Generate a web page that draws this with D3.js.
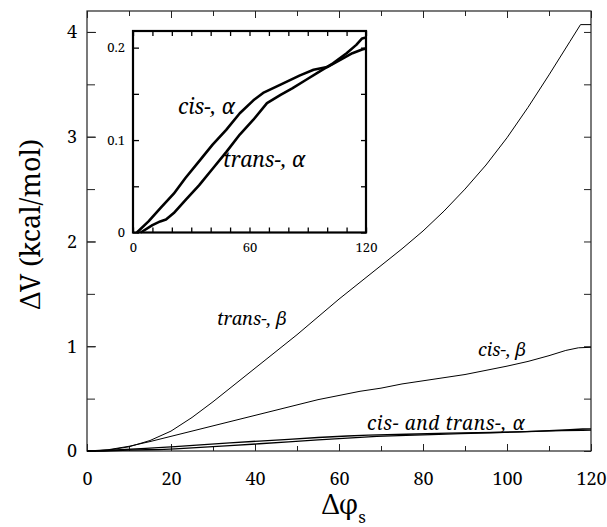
<!DOCTYPE html>
<html>
<head>
<meta charset="utf-8">
<script src="https://cdn.jsdelivr.net/npm/d3@7"></script>
<style>
  html, body { margin: 0; padding: 0; background: #fff; }
  svg { display: block; }
</style>
</head>
<body>
<svg id="chart" width="607" height="527"></svg>
<script>
// ---------- data ----------
const xTickValues = [0, 20, 40, 60, 80, 100, 120];
const yTickValues = [0, 1, 2, 3, 4];
const insetXTickValues = [0, 60, 120];
const insetYTickValues = [0, 0.1, 0.2];
const insetYTickLabels = ["0", "0.1", "0.2"];

const transBetaPhi = [0, 5, 10, 15, 20, 25, 30, 35, 40, 45, 50, 55, 60, 65, 70, 75, 80, 85, 90, 95, 100, 105, 110, 115, 117.5, 120];
const transBetaV   = [0, 0.008, 0.04, 0.10, 0.19, 0.32, 0.47, 0.63, 0.79, 0.95, 1.11, 1.28, 1.45, 1.61, 1.77, 1.93, 2.10, 2.29, 2.50, 2.73, 2.99, 3.28, 3.59, 3.91, 4.07, 4.07];

const cisBetaPhi = [0, 5, 10, 15, 20, 25, 30, 35, 40, 45, 50, 55, 60, 65, 70, 75, 80, 85, 90, 95, 100, 105, 110, 114, 117, 120];
const cisBetaV   = [0, 0.012, 0.045, 0.09, 0.14, 0.19, 0.24, 0.29, 0.34, 0.39, 0.44, 0.49, 0.53, 0.57, 0.60, 0.64, 0.67, 0.70, 0.73, 0.77, 0.81, 0.855, 0.91, 0.96, 0.985, 0.99];

const cisAlphaPhi = [2, 8, 14, 21, 27, 34, 41, 48, 55, 62, 67, 76, 86, 93, 100, 107, 113, 118, 120];
const cisAlphaV   = [0, 0.012, 0.026, 0.042, 0.059, 0.077, 0.095, 0.111, 0.129, 0.143, 0.151, 0.160, 0.170, 0.176, 0.179, 0.187, 0.194, 0.198, 0.199];

const transAlphaPhi = [4, 10, 14, 17, 21, 27, 34, 41, 48, 55, 62, 69, 76, 82, 89, 96, 103, 110, 115, 118, 120];
const transAlphaV   = [0, 0.008, 0.012, 0.014, 0.021, 0.035, 0.051, 0.069, 0.087, 0.106, 0.122, 0.140, 0.149, 0.156, 0.165, 0.174, 0.183, 0.194, 0.203, 0.210, 0.211];

// ---------- layout ----------
const FONT = '"Noto Serif", "Times New Roman", serif';
const svg = d3.select("#chart");
const main = { left: 87, right: 591, top: 11, bottom: 451 };
const inset = { left: 133, right: 366, top: 31, bottom: 232.5 };

const x = d3.scaleLinear().domain([0, 120]).range([main.left, main.right]);
const y = d3.scaleLinear().domain([0, 4.2]).range([main.bottom, main.top]);
const xi = d3.scaleLinear().domain([0, 120]).range([inset.left, inset.right]);
const yi = d3.scaleLinear().domain([0, 0.218]).range([inset.bottom, inset.top]);

const zip = (a, b) => a.map((v, i) => [v, b[i]]);
const styleText = (s, fs) => s.selectAll("text").attr("font-size", fs).style("font-family", FONT).attr("fill", "#000");

// ---------- main frame & ticks ----------
const g = svg.append("g");

g.append("rect")
  .attr("x", main.left).attr("y", main.top)
  .attr("width", main.right - main.left).attr("height", main.bottom - main.top)
  .attr("fill", "none").attr("stroke", "#222").attr("stroke-width", 1.2);

const xMinor = d3.range(0, 121, 10);
g.append("g").attr("transform", `translate(0,${main.bottom})`)
  .call(d3.axisBottom(x).tickValues(xMinor).tickSize(-5).tickFormat(""))
  .call(s => s.select(".domain").remove());
g.append("g").attr("transform", `translate(0,${main.bottom})`)
  .call(d3.axisBottom(x).tickValues(xTickValues).tickSize(-7).tickPadding(21).tickFormat(d3.format("d")))
  .call(s => s.select(".domain").remove())
  .call(s => styleText(s, 18));
g.append("g").attr("transform", `translate(0,${main.top})`)
  .call(d3.axisTop(x).tickValues(xMinor).tickSize(-5).tickFormat(""))
  .call(s => s.select(".domain").remove());
g.append("g").attr("transform", `translate(0,${main.top})`)
  .call(d3.axisTop(x).tickValues(xTickValues).tickSize(-7).tickFormat(""))
  .call(s => s.select(".domain").remove());
const yMinor = d3.range(0, 4.01, 0.5);
g.append("g").attr("transform", `translate(${main.left},0)`)
  .call(d3.axisLeft(y).tickValues(yMinor).tickSize(-8).tickFormat(""))
  .call(s => s.select(".domain").remove());
g.append("g").attr("transform", `translate(${main.left},0)`)
  .call(d3.axisLeft(y).tickValues(yTickValues).tickSize(-9).tickPadding(10).tickFormat(d3.format("d")))
  .call(s => s.select(".domain").remove())
  .call(s => styleText(s, 18));
g.append("g").attr("transform", `translate(${main.right},0)`)
  .call(d3.axisRight(y).tickValues(yMinor).tickSize(-7).tickFormat(""))
  .call(s => s.select(".domain").remove());
g.selectAll(".tick line").attr("stroke", "#222");

// axis titles
svg.append("text")
  .attr("transform", `translate(40,224) rotate(-90)`)
  .attr("text-anchor", "middle")
  .attr("font-size", 27).style("font-family", FONT)
  .text("ΔV (kcal/mol)");

const xt = svg.append("text")
  .attr("x", 322).attr("y", 514)
  .attr("font-size", 27).style("font-family", FONT);
xt.append("tspan").text("Δφ");
xt.append("tspan").attr("font-size", 17).attr("dy", 9).text("s");

// ---------- main curves ----------
const line = d3.line().x(d => x(d[0])).y(d => y(d[1])).curve(d3.curveLinear);

g.append("path").datum(zip(transBetaPhi, transBetaV))
  .attr("d", line).attr("fill", "none").attr("stroke", "#000").attr("stroke-width", 1);
g.append("path").datum(zip(cisBetaPhi, cisBetaV))
  .attr("d", line).attr("fill", "none").attr("stroke", "#000").attr("stroke-width", 1);
g.append("path").datum(zip([0].concat(cisAlphaPhi), [0].concat(cisAlphaV)))
  .attr("d", line).attr("fill", "none").attr("stroke", "#000").attr("stroke-width", 1.3);
g.append("path").datum(zip([0].concat(transAlphaPhi), [0].concat(transAlphaV)))
  .attr("d", line).attr("fill", "none").attr("stroke", "#000").attr("stroke-width", 1.3);

const lab = (xx, yy, t, fs, ls) => svg.append("text").attr("x", xx).attr("y", yy)
  .attr("font-size", fs).attr("font-style", "italic").style("font-family", FONT)
  .style("letter-spacing", (ls || 0) + "px").text(t);
lab(217, 325, "trans-, β", 18);
lab(478, 356, "cis-, β", 18);
lab(367, 430, "cis- and trans-, α", 19, 0.6);

// ---------- inset ----------
const gi = svg.append("g");
gi.append("rect")
  .attr("x", inset.left).attr("y", inset.top)
  .attr("width", inset.right - inset.left).attr("height", inset.bottom - inset.top)
  .attr("fill", "#fff").attr("stroke", "#000").attr("stroke-width", 2.2);

const xiMinor = d3.range(0, 121, 10);
const yiMinor = d3.range(0, 0.201, 0.05);
gi.append("g").attr("transform", `translate(0,${inset.bottom})`)
  .call(d3.axisBottom(xi).tickValues(xiMinor).tickSize(-5).tickFormat(""))
  .call(s => s.select(".domain").remove());
gi.append("g").attr("transform", `translate(0,${inset.bottom})`)
  .call(d3.axisBottom(xi).tickValues(insetXTickValues).tickSize(0).tickPadding(10).tickFormat(d3.format("d")))
  .call(s => s.select(".domain").remove())
  .call(s => styleText(s, 13));
gi.append("g").attr("transform", `translate(0,${inset.top})`)
  .call(d3.axisTop(xi).tickValues(xiMinor).tickSize(-5).tickFormat(""))
  .call(s => s.select(".domain").remove());
gi.append("g").attr("transform", `translate(${inset.left},0)`)
  .call(d3.axisLeft(yi).tickValues(yiMinor).tickSize(-6).tickFormat(""))
  .call(s => s.select(".domain").remove());
gi.append("g").attr("transform", `translate(${inset.left},0)`)
  .call(d3.axisLeft(yi).tickValues(insetYTickValues).tickSize(0).tickPadding(8)
        .tickFormat((d, i) => insetYTickLabels[i]))
  .call(s => s.select(".domain").remove())
  .call(s => styleText(s, 13));
gi.append("g").attr("transform", `translate(${inset.right},0)`)
  .call(d3.axisRight(yi).tickValues(yiMinor).tickSize(-5).tickFormat(""))
  .call(s => s.select(".domain").remove());
gi.selectAll(".tick line").attr("stroke", "#000").attr("stroke-width", 1.3);

const linei = d3.line().x(d => xi(d[0])).y(d => yi(d[1])).curve(d3.curveLinear);
gi.append("path").datum(zip(cisAlphaPhi, cisAlphaV))
  .attr("d", linei).attr("fill", "none").attr("stroke", "#000").attr("stroke-width", 2.6)
  .attr("stroke-linejoin", "round");
gi.append("path").datum(zip(transAlphaPhi, transAlphaV))
  .attr("d", linei).attr("fill", "none").attr("stroke", "#000").attr("stroke-width", 2.6)
  .attr("stroke-linejoin", "round");

lab(178, 114, "cis-, α", 21);
lab(223, 167, "trans-, α", 21);
</script>
</body>
</html>
